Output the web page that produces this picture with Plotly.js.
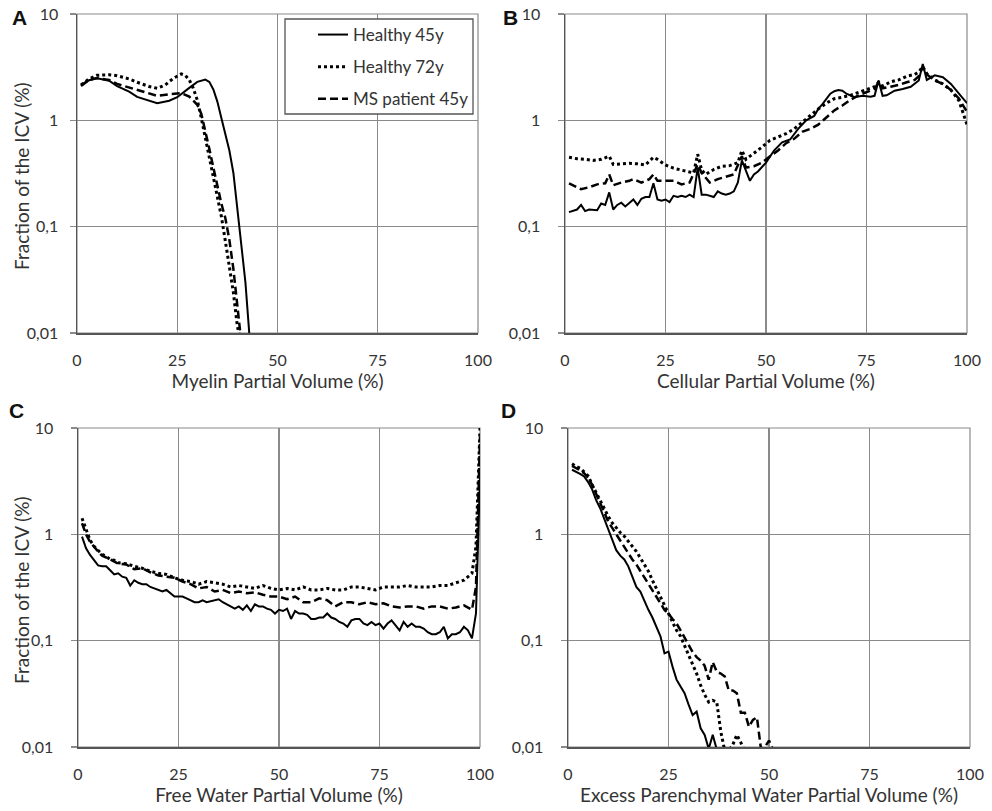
<!DOCTYPE html>
<html>
<head>
<meta charset="utf-8">
<script src="https://cdn.plot.ly/plotly-3.0.1.min.js"></script>
<style>html,body{margin:0;padding:0;background:#fff;}#chart{width:992px;height:811px;}</style>
</head>
<body>
<div id="chart"></div>
<script>
// ---- Panel A: Myelin Partial Volume ----
const aH45x = [1,3,5,8,10,13,15,18,20,23,25,28,30,32,33,34,35,36,37,38,39,40,41,42,43];
const aH45y = [2.15,2.38,2.48,2.36,2.1,1.86,1.66,1.52,1.45,1.53,1.65,2.02,2.3,2.42,2.3,1.95,1.5,1.05,0.75,0.52,0.32,0.15,0.065,0.03,0.0095];
const aH72x = [1,3,5,8,10,13,15,18,20,22,24,26,27,28,29,30,31,32,33,34,35,36,37,38,39,40,41];
const aH72y = [2.15,2.45,2.65,2.68,2.63,2.45,2.28,2.08,2.0,2.15,2.48,2.73,2.65,2.4,2.0,1.55,1.05,0.68,0.44,0.29,0.19,0.125,0.073,0.043,0.024,0.0115,0.008];
const aMSx = [1,3,5,8,10,13,15,18,20,23,26,28,30,31,32,33,34,35,36,37,38,39,40,41];
const aMSy = [2.1,2.4,2.5,2.4,2.2,2.03,1.93,1.8,1.7,1.76,1.8,1.67,1.4,1.15,0.8,0.54,0.36,0.24,0.165,0.12,0.075,0.04,0.019,0.008];

// ---- Panel B: Cellular Partial Volume ----
const bH45x = [1,3,4,5,6,8,9,10,11,12,13,14,15,17,18,19,20,21,22,23,24,25,26,27,28,29,30,31,32,33,34,35,36,37,38,39,40,41,42,43,44,45,46,47,48,50,52,54,56,58,60,62,63,64,65,66,67,68,69,70,72,74,76,77,78,79,80,82,84,86,88,89,90,91,92,94,96,98,100];
const bH45y = [0.137,0.145,0.16,0.14,0.145,0.143,0.165,0.16,0.21,0.145,0.16,0.168,0.155,0.18,0.16,0.183,0.19,0.19,0.256,0.18,0.175,0.18,0.17,0.195,0.19,0.195,0.19,0.2,0.19,0.36,0.2,0.2,0.195,0.19,0.215,0.205,0.2,0.205,0.215,0.26,0.42,0.34,0.27,0.31,0.33,0.4,0.52,0.62,0.66,0.83,1.0,1.1,1.28,1.41,1.6,1.78,1.88,1.93,1.9,1.78,1.65,1.7,1.67,1.7,2.37,1.7,1.72,1.9,1.97,2.07,2.37,3.39,2.4,2.5,2.65,2.54,2.2,1.78,1.45];
const bH72x = [1,3,5,7,9,11,12,14,16,18,20,22,23,25,27,29,31,32,33,34,35,37,39,41,43,44,45,47,49,51,53,55,57,59,61,63,65,67,69,71,73,75,77,78,79,81,83,85,87,88,89,90,92,94,96,98,99,100];
const bH72y = [0.45,0.435,0.43,0.42,0.43,0.46,0.385,0.39,0.395,0.39,0.38,0.45,0.43,0.38,0.355,0.34,0.33,0.32,0.48,0.34,0.31,0.345,0.37,0.375,0.4,0.52,0.43,0.49,0.56,0.65,0.7,0.75,0.83,0.96,1.1,1.28,1.45,1.6,1.65,1.72,1.83,1.93,2.07,2.28,2.1,2.3,2.4,2.6,2.7,2.85,3.2,2.75,2.4,2.2,1.93,1.53,1.15,0.91];
const bMSx = [1,3,4,6,8,10,11,12,14,16,17,19,21,22,23,25,27,29,31,33,34,36,38,40,42,44,45,47,49,51,53,55,57,59,61,63,65,67,69,71,73,75,77,78,79,81,83,85,87,88,89,90,92,94,96,98,100];
const bMSy = [0.256,0.235,0.225,0.235,0.25,0.256,0.31,0.245,0.26,0.27,0.28,0.26,0.28,0.31,0.27,0.27,0.27,0.25,0.26,0.385,0.32,0.26,0.28,0.295,0.31,0.46,0.36,0.37,0.4,0.46,0.52,0.61,0.67,0.78,0.83,0.91,1.07,1.24,1.38,1.56,1.72,1.83,1.97,2.28,2.0,2.07,2.15,2.28,2.4,2.6,3.17,2.7,2.37,2.2,1.93,1.6,1.2];

// ---- Panel C: Free Water Partial Volume ----
const cH45x = [1,2,3,4,5,6,7,8,9,10,11,12,13,14,15,16,17,18,19,20,21,22,23,24,25,26,27,28,29,30,31,32,33,34,35,36,37,38,39,40,41,42,43,44,45,46,47,48,49,50,51,52,53,54,55,56,57,58,59,60,61,62,63,64,65,66,67,68,69,70,71,72,73,74,75,76,77,78,79,80,81,82,83,84,85,86,87,88,89,90,91,92,93,94,95,96,97,98,99,100];
const cH45y = [0.95,0.74,0.64,0.57,0.51,0.5,0.5,0.46,0.42,0.43,0.4,0.39,0.33,0.37,0.35,0.34,0.34,0.32,0.31,0.3,0.29,0.3,0.28,0.26,0.26,0.26,0.25,0.24,0.23,0.23,0.24,0.23,0.235,0.24,0.245,0.23,0.22,0.21,0.2,0.21,0.195,0.215,0.19,0.22,0.21,0.21,0.2,0.195,0.18,0.195,0.19,0.2,0.16,0.19,0.18,0.18,0.175,0.16,0.16,0.165,0.165,0.18,0.165,0.16,0.15,0.145,0.135,0.155,0.16,0.16,0.145,0.14,0.15,0.14,0.145,0.13,0.145,0.155,0.14,0.125,0.15,0.135,0.145,0.135,0.135,0.13,0.12,0.115,0.115,0.12,0.135,0.105,0.115,0.115,0.12,0.135,0.125,0.105,0.18,3.5];
const cH72x = [1,2,3,4,5,6,7,8,9,10,12,14,16,18,20,22,24,26,28,30,32,34,36,38,40,42,44,46,48,50,52,54,56,58,60,62,64,66,68,70,72,74,76,78,80,82,84,86,88,90,92,94,96,98,99,100];
const cH72y = [1.42,1.1,0.88,0.77,0.71,0.65,0.62,0.58,0.57,0.54,0.53,0.5,0.48,0.45,0.43,0.42,0.39,0.37,0.36,0.34,0.36,0.35,0.34,0.32,0.33,0.32,0.31,0.33,0.31,0.3,0.31,0.3,0.32,0.3,0.3,0.31,0.3,0.3,0.32,0.32,0.31,0.3,0.32,0.32,0.32,0.33,0.32,0.32,0.32,0.33,0.33,0.35,0.37,0.43,0.77,10];
const cMSx = [1,2,3,4,5,6,7,8,10,12,14,16,18,20,22,24,26,28,30,32,34,36,38,40,42,44,46,48,50,52,54,56,58,60,62,64,66,68,70,72,74,76,78,80,82,84,86,88,90,92,94,96,98,99,100];
const cMSy = [1.27,1.0,0.85,0.76,0.69,0.63,0.6,0.58,0.53,0.52,0.47,0.48,0.44,0.41,0.4,0.39,0.36,0.34,0.31,0.32,0.29,0.3,0.28,0.29,0.28,0.285,0.27,0.26,0.26,0.245,0.26,0.23,0.23,0.25,0.24,0.21,0.23,0.23,0.22,0.23,0.22,0.225,0.21,0.205,0.21,0.21,0.2,0.21,0.21,0.2,0.205,0.215,0.195,0.32,8.3];

// ---- Panel D: Excess Parenchymal Water Partial Volume ----
const dH45x = [1,2,3,4,5,6,7,8,9,10,11,12,13,14,15,16,17,18,19,20,21,22,23,24,25,26,27,28,29,30,31,32,33,34,35,36,37];
const dH45y = [4.05,3.9,3.7,3.5,3.1,2.65,2.1,1.76,1.42,1.12,0.89,0.71,0.63,0.58,0.5,0.4,0.32,0.29,0.235,0.195,0.165,0.135,0.11,0.076,0.079,0.057,0.043,0.037,0.032,0.025,0.02,0.0215,0.015,0.013,0.0096,0.013,0.0095];
const dH72x = [1,2,3,4,5,6,7,8,9,10,11,12,13,14,15,16,17,18,19,20,21,22,23,24,25,26,27,28,29,30,31,32,33,34,35,36,37,38,39,40,41,42,43,44];
const dH72y = [4.6,4.35,4.2,3.9,3.55,2.93,2.47,2.03,1.7,1.48,1.28,1.15,1.04,0.96,0.86,0.77,0.69,0.6,0.52,0.45,0.37,0.31,0.26,0.215,0.18,0.15,0.125,0.11,0.09,0.076,0.061,0.049,0.038,0.031,0.0265,0.0275,0.0265,0.014,0.0092,0.0092,0.0105,0.013,0.011,0.009];
const dMSx = [1,2,3,4,5,6,7,8,9,10,11,12,13,14,15,16,17,18,19,20,21,22,23,24,25,26,27,28,29,30,31,32,33,34,35,36,37,38,39,40,41,42,43,44,45,46,47,48,49,50,51];
const dMSy = [4.4,4.2,4.0,3.75,3.4,2.93,2.4,1.96,1.58,1.32,1.15,1.0,0.86,0.77,0.66,0.58,0.52,0.45,0.39,0.34,0.3,0.26,0.225,0.195,0.18,0.16,0.145,0.125,0.107,0.093,0.078,0.07,0.065,0.058,0.043,0.063,0.051,0.049,0.046,0.034,0.034,0.032,0.021,0.021,0.0155,0.018,0.019,0.0096,0.01,0.0115,0.0095];

const seriesNames = ['Healthy 45y','Healthy 72y','MS patient 45y'];
const yTickVals = [0.01,0.1,1,10];
const yTickText = ['0,01','0,1','1','10'];
const xTickVals = [0,25,50,75,100];
const xTitles = ['Myelin Partial Volume (%)','Cellular Partial Volume (%)','Free Water Partial Volume (%)','Excess Parenchymal Water Partial Volume (%)'];
const yTitle = 'Fraction of the ICV (%)';
const panelLetters = ['A','B','C','D'];

const FONT = 'Lato, "Open Sans", sans-serif';
const styles = [
  {color:'#000', width:2, dash:'solid'},
  {color:'#000', width:3, dash:'3px,3px'},
  {color:'#000', width:2.5, dash:'8px,4px'}
];

const panels = [
  [[aH45x,aH45y],[aH72x,aH72y],[aMSx,aMSy]],
  [[bH45x,bH45y],[bH72x,bH72y],[bMSx,bMSy]],
  [[cH45x,cH45y],[cH72x,cH72y],[cMSx,cMSy]],
  [[dH45x,dH45y],[dH72x,dH72y],[dMSx,dMSy]]
];

const traces = [];
panels.forEach((p, pi) => {
  p.forEach((s, si) => {
    traces.push({
      type:'scatter', mode:'lines',
      x:s[0], y:s[1],
      name: seriesNames[si],
      legendgroup: 'g'+si,
      showlegend: pi === 0,
      line: Object.assign({shape:'linear'}, styles[si]),
      xaxis: pi === 0 ? 'x' : 'x'+(pi+1),
      yaxis: pi === 0 ? 'y' : 'y'+(pi+1),
      hoverinfo:'x+y'
    });
  });
});

// plot areas in pixels: [left, right, top, bottom]
const W = 992, H = 811;
const boxes = [[77,478,14,333],[565,967,14,333],[78,480,428,747],[568,970,428,747]];
const ylabStand = [8,14,14,14];

const layout = {
  width:W, height:H, autosize:false,
  margin:{l:0,r:0,t:0,b:0},
  paper_bgcolor:'#fff', plot_bgcolor:'#fff',
  font:{family:FONT, size:15, color:'#333'},
  showlegend:true,
  legend:{
    x:313/W, y:1-17/H, xanchor:'left', yanchor:'top',
    bgcolor:'rgba(255,255,255,0)', borderwidth:0,
    font:{family:FONT, size:17, color:'#333'},
    tracegroupgap:7,
    traceorder:'grouped'
  },
  shapes:[], annotations:[]
};

boxes.forEach((b, i) => {
  const sfx = i === 0 ? '' : String(i+1);
  const xd = [b[0]/W, b[1]/W];
  const yd = [1-b[3]/H, 1-b[2]/H];
  layout['xaxis'+sfx] = {
    domain:xd, range:[0,100], anchor:'y'+sfx,
    tickvals:xTickVals, ticktext:xTickVals.map(String),
    showgrid:true, gridcolor:'#8a8a8a', gridwidth:1.2,
    showline:true, linecolor:'#555', linewidth:1.5,
    ticks:'outside', ticklen:12, tickcolor:'rgba(0,0,0,0)',
    zeroline:false,
    tickfont:{family:FONT, size:16, color:'#333'},
    title:{text:xTitles[i], font:{family:FONT, size:19, color:'#333'}, standoff:2},
    automargin:false, fixedrange:true
  };
  layout['yaxis'+sfx] = {
    domain:yd, type:'log', range:[-2,1], anchor:'x'+sfx,
    tickvals:yTickVals, ticktext:yTickText,
    showgrid:true, gridcolor:'#8a8a8a', gridwidth:1.2,
    showline:true, linecolor:'#555', linewidth:1.5,
    ticks:'outside', ticklen:6, tickcolor:'#8a8a8a', tickwidth:1.2,
    ticklabelstandoff: ylabStand[i],
    zeroline:false,
    tickfont:{family:FONT, size:16, color:'#333'},
    automargin:false, fixedrange:true
  };
  // top/right border of plot area
  layout.shapes.push({type:'rect', xref:'paper', yref:'paper', x0:xd[0], x1:xd[1], y0:yd[0], y1:yd[1],
    line:{color:'#8a8a8a', width:1.2}, fillcolor:'rgba(0,0,0,0)', layer:'below'});
  // panel letter
  const lx = [19,510,16,509][i], ly = [18,18,410,410][i];
  layout.annotations.push({text:'<b>'+panelLetters[i]+'</b>', xref:'paper', yref:'paper',
    x:lx/W, y:1-ly/H, xanchor:'center', yanchor:'middle', showarrow:false,
    font:{family:'Liberation Sans, Arial, sans-serif', size:21, color:'#111'}});
});

// y-axis titles (left column only)
[[21,176],[21,590]].forEach(p => {
  layout.annotations.push({text:yTitle, xref:'paper', yref:'paper', x:p[0]/W, y:1-p[1]/H,
    xanchor:'center', yanchor:'middle', textangle:-90, showarrow:false,
    font:{family:FONT, size:19, color:'#333'}});
});

// legend frame
layout.shapes.push({type:'rect', xref:'paper', yref:'paper',
  x0:285/W, x1:473/W, y0:1-114/H, y1:1-19/H,
  line:{color:'#555', width:1.3}, fillcolor:'#fff', layer:'above'});

Plotly.newPlot('chart', traces, layout, {displayModeBar:false, staticPlot:true});
</script>
</body>
</html>
